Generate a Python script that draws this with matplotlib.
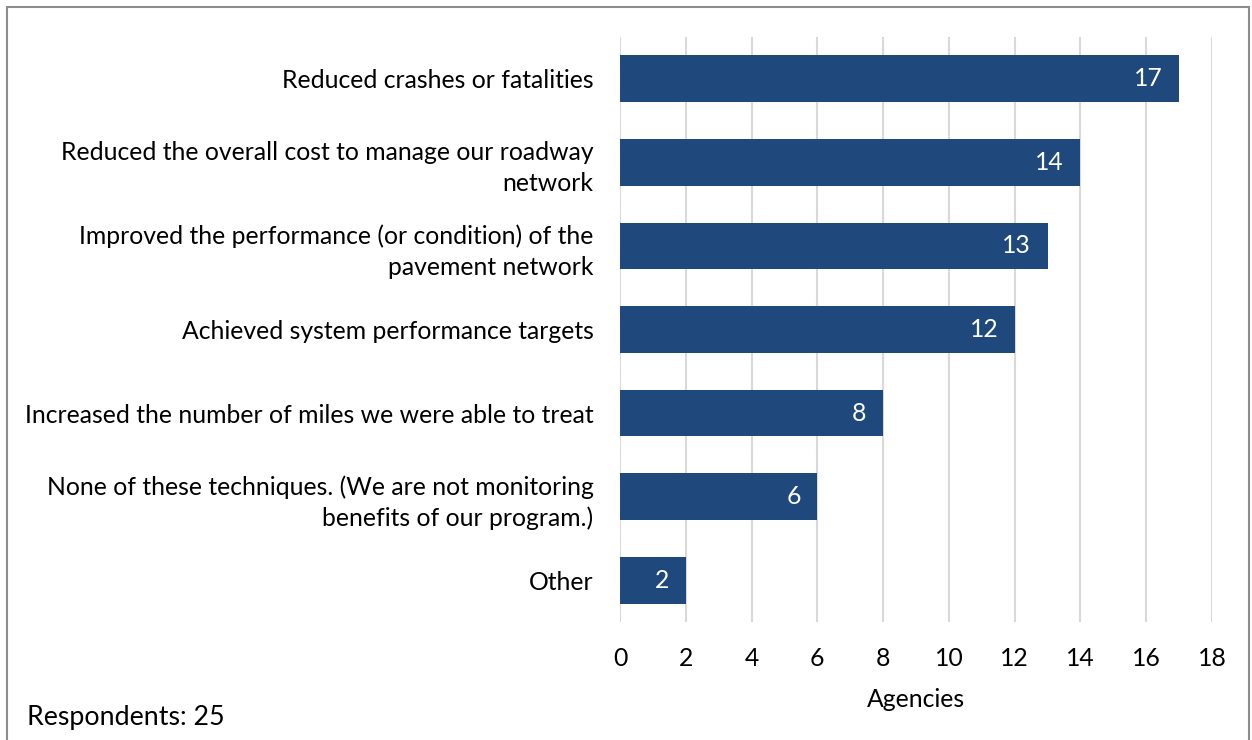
import matplotlib
matplotlib.use("Agg")
import matplotlib.pyplot as plt
from matplotlib.patches import Rectangle

categories = [
    "Reduced crashes or fatalities",
    "Reduced the overall cost to manage our roadway\nnetwork",
    "Improved the performance (or condition) of the\npavement network",
    "Achieved system performance targets",
    "Increased the number of miles we were able to treat",
    "None of these techniques. (We are not monitoring\nbenefits of our program.)",
    "Other",
]
values = [17, 14, 13, 12, 8, 6, 2]
xticks = [0, 2, 4, 6, 8, 10, 12, 14, 16, 18]

plt.rcParams['font.family'] = ['Lato', 'DejaVu Sans']
FS = 17.8
W, H = 1252, 740
fig = plt.figure(figsize=(W/100, H/100), dpi=100)
ax = fig.add_axes([620/W, 1-622/H, (1212-620)/W, (622-37)/H])

color = '#1F497D'
ypos = list(range(len(categories)))
ax.barh(ypos, values, height=0.56, color=color, zorder=3)
for y, v in zip(ypos, values):
    ax.text(v - 0.5, y, str(v), ha='right', va='center', color='white', fontsize=FS, zorder=4)

ax.set_ylim(len(categories) - 0.5, -0.5)
ax.set_xlim(0, 18)
ax.set_xticks(xticks)
ax.set_xticklabels([str(t) for t in xticks], fontsize=FS)
ax.set_yticks(ypos)
ax.set_yticklabels(categories, fontsize=FS, linespacing=1.4)
ax.tick_params(axis='both', length=0)
ax.tick_params(axis='x', pad=18)
ax.tick_params(axis='y', pad=19)
ax.xaxis.grid(True, color='#D9D9D9', linewidth=1.5, zorder=0)
ax.set_axisbelow(True)
for s in ax.spines.values():
    s.set_visible(False)
ax.set_xlabel("Agencies", fontsize=FS, labelpad=13)

fig.text(27/W, 1-718/H, "Respondents: 25", fontsize=19.3, ha='left', va='center')

fig.patches.append(Rectangle((7/W, -0.01), (1249-7)/W, (1 - 7/H) + 0.01, transform=fig.transFigure,
                             fill=False, edgecolor='#8C8C8C', linewidth=1.5))

fig.savefig("out.png", dpi=100)
